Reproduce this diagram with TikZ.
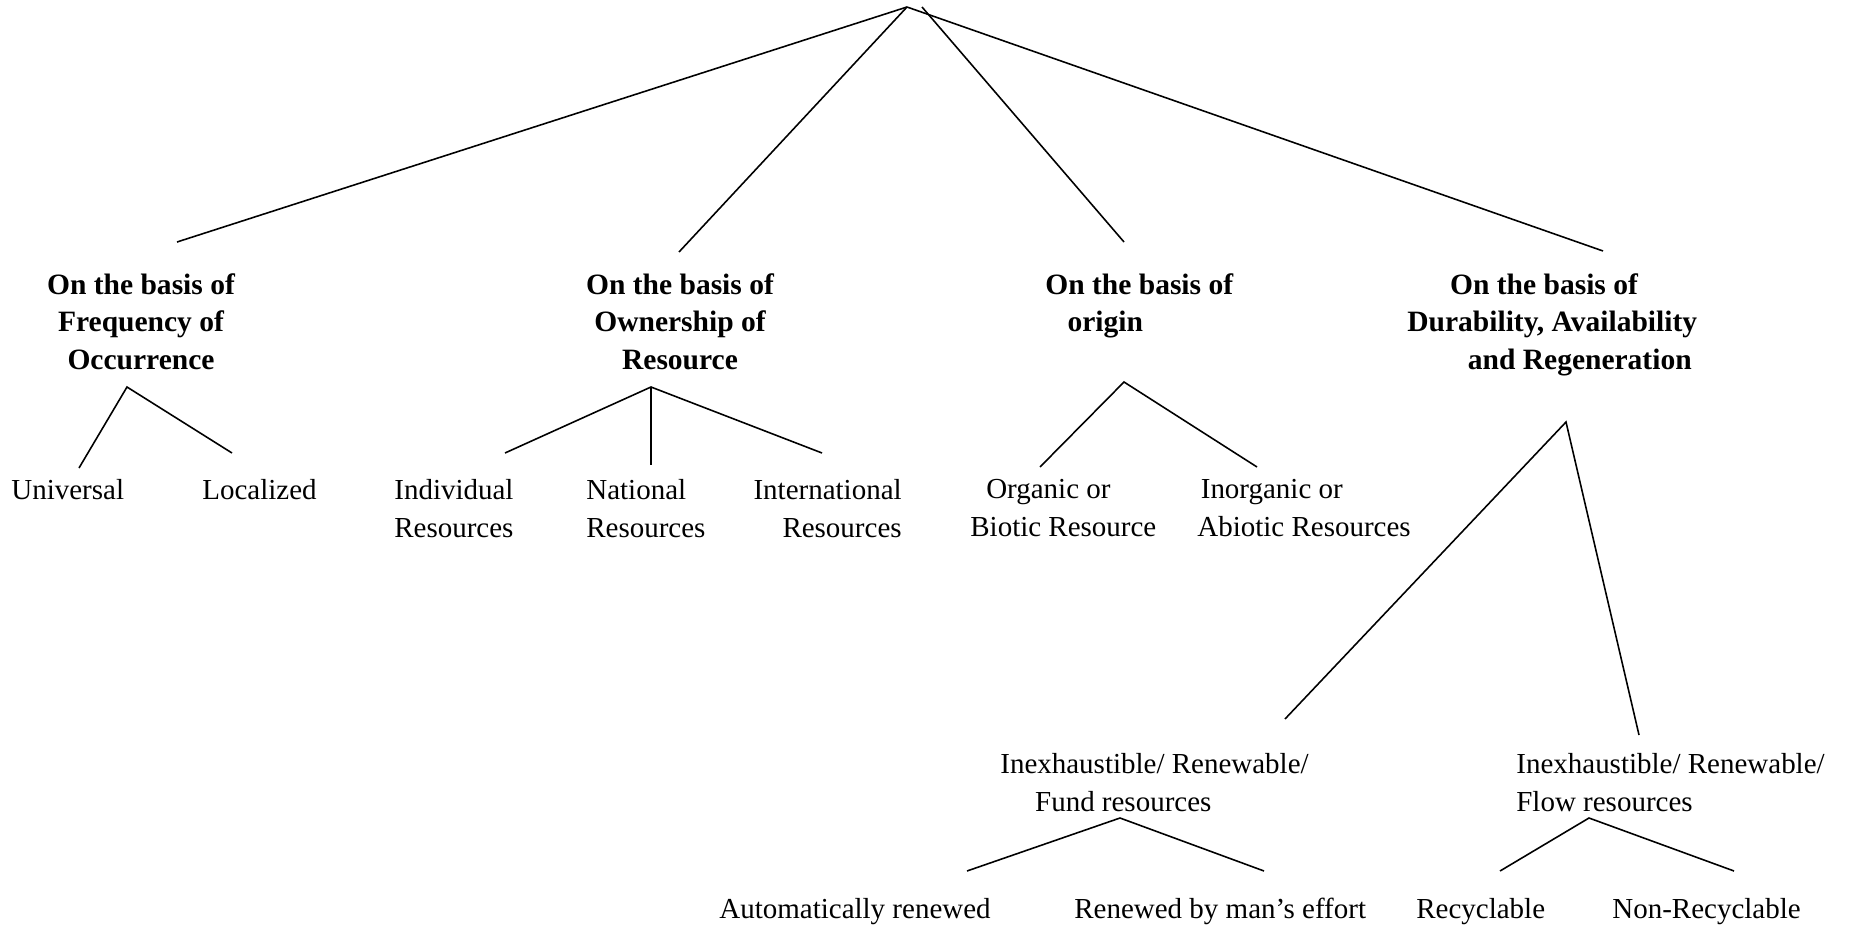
\documentclass[tikz,border=0pt]{standalone}
\usepackage{fontspec}
\setmainfont{Liberation Serif}
\usetikzlibrary{positioning}
\tikzstyle{basis} = [font=\fontsize{16.8}{21.5}\selectfont\bfseries, inner sep=0pt]
\tikzstyle{leaf} = [font=\fontsize{16.5}{21.5}\selectfont, inner sep=0pt]
\tikzstyle{branch} = [line width=0.9pt]

\begin{document}
\begin{tikzpicture}[x=0.02cm, y=-0.02cm]
   \useasboundingbox (0,0) rectangle (1849,926);
   \node (freq) [basis, anchor=north, align=center] at (141,273) {On the basis of\\Frequency of\\Occurrence};
   \node (own) [basis, anchor=north, align=center] at (680,273) {On the basis of\\Ownership of\\Resource};
   \node (orig) [basis, anchor=north west, align=left] at (1045,273) {On the basis of\\\hspace*{0.75em}origin};
   \node (dur) [basis, anchor=north west, align=left] at (1407,273) {\hspace*{1.45em}On the basis of\\Durability, Availability\\\hspace*{2.05em}and Regeneration};

   \node (univ) [leaf, anchor=north west] at (11,479) {Universal};
   \node (local) [leaf, anchor=north west] at (202,479) {Localized};
   \node (indiv) [leaf, anchor=north west, align=left] at (394,479) {Individual\\Resources};
   \node (natl) [leaf, anchor=north west, align=left] at (586,479) {National\\Resources};
   \node (intl) [leaf, anchor=north east, align=right] at (902,479) {International\\Resources};
   \node (biotic) [leaf, anchor=north west, align=left] at (970,479) {\hspace*{0.55em}Organic or\\Biotic Resource};
   \node (abiotic) [leaf, anchor=north west, align=left] at (1197,479) {\hspace*{0.12em}Inorganic or\\Abiotic Resources};

   \node (fund) [leaf, anchor=north west, align=left] at (1000,753) {Inexhaustible/ Renewable/\\\hspace*{1.2em}Fund resources};
   \node (flow) [leaf, anchor=north west, align=left] at (1516,753) {Inexhaustible/ Renewable/\\Flow resources};

   \node (auto) [leaf, anchor=north west] at (719,898) {Automatically renewed};
   \node (man) [leaf, anchor=north west] at (1074,898) {Renewed by man’s effort};
   \node (recyc) [leaf, anchor=north west] at (1416,898) {Recyclable};
   \node (nonrecyc) [leaf, anchor=north west] at (1612,898) {Non-Recyclable};

   \coordinate (top) at (907,7);
   \coordinate (top2) at (922,7);
   \coordinate (freqin) at (177,242);
   \coordinate (ownin) at (679,252);
   \coordinate (origin) at (1124,242);
   \coordinate (durin) at (1603,251);
   \draw [branch] (top) -- (freqin);
   \draw [branch] (top) -- (ownin);
   \draw [branch] (top2) -- (origin);
   \draw [branch] (top) -- (durin);

   \coordinate (freqout) at (127,387);
   \draw [branch] (79,468) coordinate (univin) -- (freqout) -- (232,453) coordinate (localin);
   \coordinate (ownout) at (651,387);
   \draw [branch] (505,453) coordinate (indivin) -- (ownout) -- (822,453) coordinate (intlin);
   \draw [branch] (ownout) -- (651,465) coordinate (natlin);
   \coordinate (origout) at (1124,382);
   \draw [branch] (1040,467) coordinate (bioticin) -- (origout) -- (1257,467) coordinate (abioticin);
   \coordinate (durout) at (1566,422);
   \draw [branch] (1285,719) coordinate (fundin) -- (durout) -- (1639,735) coordinate (flowin);
   \coordinate (fundout) at (1120,818);
   \draw [branch] (967,871) coordinate (autoin) -- (fundout) -- (1264,871) coordinate (manin);
   \coordinate (flowout) at (1589,818);
   \draw [branch] (1500,871) coordinate (recycin) -- (flowout) -- (1734,871) coordinate (nonrecycin);
\end{tikzpicture}
\end{document}
